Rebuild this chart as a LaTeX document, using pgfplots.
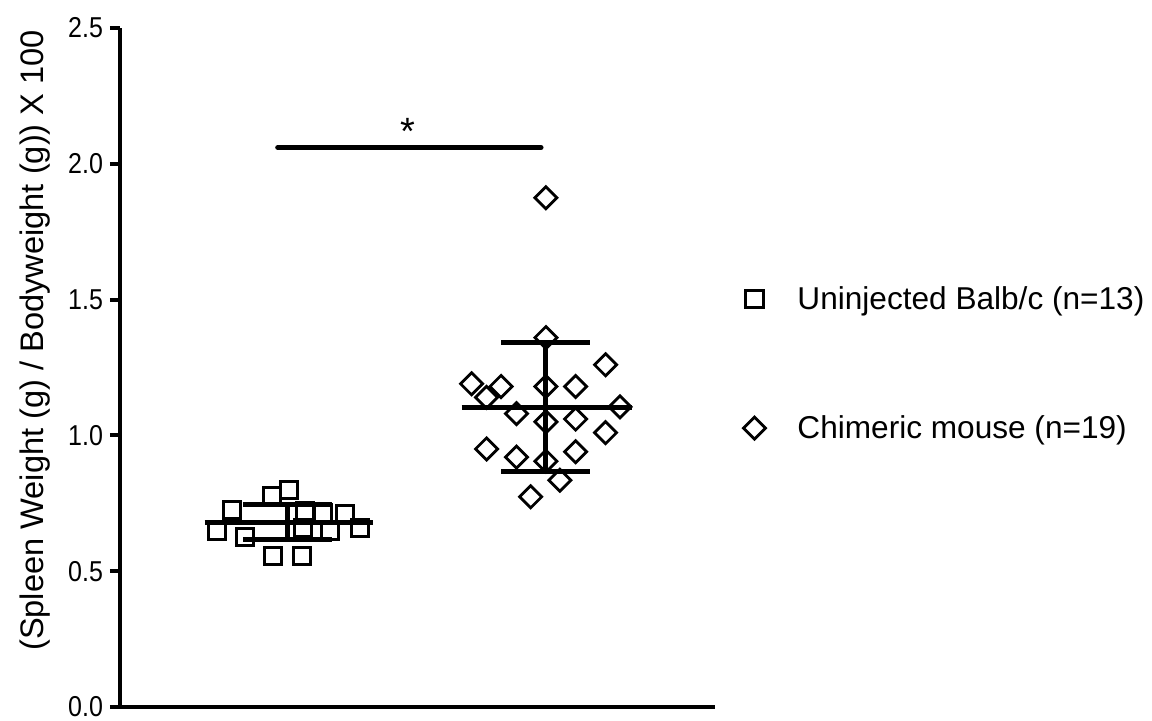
\documentclass[border=0pt]{standalone}
\usepackage{fontspec}
\setmainfont{Liberation Sans}
\usepackage{pgfplots}
\pgfplotsset{compat=1.18}
\begin{document}
\begin{tikzpicture}
\path[use as bounding box] (0,0) rectangle (576pt,360.5pt);
\begin{axis}[
  at={(60pt,7pt)}, anchor=south west,
  scale only axis, width=297.5pt, height=339.5pt,
  xmin=0.35, xmax=2.655, ymin=0, ymax=2.5,
  clip=false,
  axis x line=bottom, axis y line=left,
  axis line style={-, line width=2pt},
  xtick=\empty,
  ytick={0,0.5,1,1.5,2,2.5},
  tick align=outside, major tick length=5pt,
  every tick/.style={black, line width=2pt},
  yticklabel style={font=\fontsize{12.5}{12.5}\selectfont, yscale=1.15, /pgf/number format/.cd, fixed, fixed zerofill, precision=1, assume math mode=true},
  ylabel={(Spleen Weight (g) / Bodyweight (g)) X 100},
  ylabel style={at={(axis description cs:-0.143,0.54)}, anchor=center, rotate=0, font=\fontsize{16.3}{16.3}\selectfont},
  legend style={draw=none, fill=none, at={(axis description cs:1.037,0.632)}, anchor=north west,
    font=\fontsize{15.8}{15.8}\selectfont, row sep=47.5pt, column sep=14pt},
  legend cell align=left,
]
\addplot[only marks, mark=square, mark size=4.3pt, mark options={line width=1.5pt, black}] coordinates {
(1.004,0.800) (0.938,0.775) (0.783,0.725) (1.066,0.720) (1.136,0.715)
(1.221,0.710) (0.725,0.650) (0.833,0.625) (1.058,0.660) (1.163,0.650)
(1.279,0.660) (0.942,0.555) (1.054,0.555)
};
\addlegendentry{Uninjected Balb/c (n=13)}
\addplot[only marks, mark=square, mark size=3.9pt, mark options={line width=1.4pt, black, rotate=45}] coordinates {
(2.000,1.875) (2.000,1.360) (2.231,1.260) (1.712,1.190) (1.826,1.180)
(2.000,1.180) (2.115,1.180) (1.770,1.140) (1.886,1.080) (2.287,1.105)
(2.000,1.050) (2.115,1.060) (2.231,1.010) (1.770,0.950) (1.886,0.920)
(2.115,0.940) (2.000,0.905) (2.054,0.835) (1.941,0.774)
};
\addlegendentry{Chimeric mouse (n=19)}
% group 1 mean and SD
\addplot[forget plot, black, line width=2.5pt] coordinates {(0.678,0.680) (1.329,0.680)};
\addplot[forget plot, black, line width=2.5pt] coordinates {(1,0.615) (1,0.745)};
\addplot[forget plot, black, line width=2.5pt] coordinates {(0.828,0.745) (1.172,0.745)};
\addplot[forget plot, black, line width=2.5pt] coordinates {(0.828,0.615) (1.172,0.615)};
% group 2 mean and SD
\addplot[forget plot, black, line width=2.5pt] coordinates {(1.673,1.103) (2.332,1.103)};
\addplot[forget plot, black, line width=2.5pt] coordinates {(2,0.866) (2,1.343)};
\addplot[forget plot, black, line width=2.5pt] coordinates {(1.826,1.343) (2.171,1.343)};
\addplot[forget plot, black, line width=2.5pt] coordinates {(1.826,0.866) (2.171,0.866)};
% significance bar
\addplot[forget plot, black, line width=2.5pt, line cap=round] coordinates {(0.961,2.06) (1.981,2.06)};
\node at (axis cs:1.465,2.12) {\fontsize{19}{19}\selectfont *};
\end{axis}
\end{tikzpicture}
\end{document}
